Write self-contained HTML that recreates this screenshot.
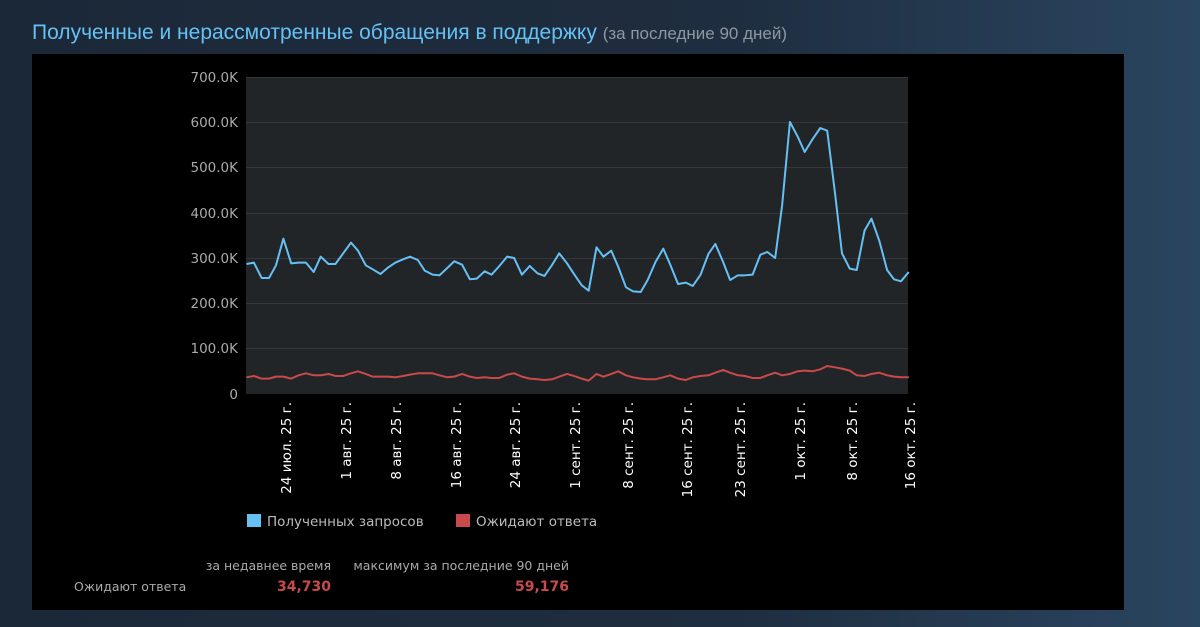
<!DOCTYPE html>
<html><head><meta charset="utf-8"><style>
body{margin:0;width:1200px;height:627px;overflow:hidden;background:linear-gradient(90deg,#1b2838 0%,#1e2d3f 60%,#2a4560 100%);font-family:"Liberation Sans","DejaVu Sans",sans-serif;position:relative}
.title{position:absolute;left:32px;top:21px;font-size:21px;color:#66c0f4;white-space:nowrap}
.title span{color:#8f98a0;font-size:17px}
.panel{position:absolute;left:32px;top:54px;width:1092px;height:556px;background:#000}
</style></head><body>
<div class="title">Полученные и нерассмотренные обращения в поддержку <span>(за последние 90 дней)</span></div>
<div class="panel"></div>
<svg width="1200" height="627" style="position:absolute;left:0;top:0" font-family="DejaVu Sans, sans-serif">
<rect x="246" y="77" width="662" height="317" fill="#222528"/>
<g stroke="#34383c" stroke-width="1">
<line x1="246" x2="908" y1="77.5" y2="77.5"/><line x1="246" x2="908" y1="122.5" y2="122.5"/><line x1="246" x2="908" y1="167.5" y2="167.5"/><line x1="246" x2="908" y1="213.5" y2="213.5"/><line x1="246" x2="908" y1="258.5" y2="258.5"/><line x1="246" x2="908" y1="303.5" y2="303.5"/><line x1="246" x2="908" y1="348.5" y2="348.5"/>
</g>
<g fill="#aaa" font-size="13.5" text-anchor="end">
<text x="238" y="82">700.0K</text><text x="238" y="127">600.0K</text><text x="238" y="172">500.0K</text><text x="238" y="218">400.0K</text><text x="238" y="263">300.0K</text><text x="238" y="308">200.0K</text><text x="238" y="353">100.0K</text><text x="238" y="399">0</text>
</g>
<g transform="translate(240,100) scale(0.4337,0.3333)" fill="none" stroke-width="2" stroke-linejoin="round">
<polyline vector-effect="non-scaling-stroke" stroke="#66c0f4" points="15,492 32,488 50,534 67,534 83,496 100,416 118,490 135,488 152,488 170,516 186,470 204,492 220,492 238,460 256,428 272,452 290,496 306,508 324,522 340,504 358,488 376,478 392,470 410,480 426,512 444,524 460,526 478,504 494,484 512,494 530,538 546,536 564,514 580,524 598,498 616,470 632,474 650,524 668,498 686,520 702,528 720,494 736,460 754,490 770,522 788,556 804,572 822,442 838,470 856,452 872,500 890,562 906,574 924,576 940,540 958,486 976,446 992,494 1010,552 1028,548 1044,558 1062,524 1080,462 1096,432 1114,486 1130,540 1148,526 1164,526 1182,524 1200,464 1216,456 1234,474 1250,316 1268,66 1286,110 1302,156 1320,118 1338,84 1354,92 1372,280 1388,460 1406,506 1422,510 1440,392 1456,356 1474,422 1492,510 1508,538 1524,544 1542,516"/>
<polyline vector-effect="non-scaling-stroke" stroke="#c94a4a" points="15,832 32,828 50,836 67,836 83,830 100,830 118,836 135,826 152,820 170,826 186,826 204,822 220,828 238,828 256,820 272,814 290,822 306,830 324,830 340,830 358,832 376,828 392,824 410,820 426,820 444,820 460,826 478,832 494,830 512,822 530,830 546,834 564,832 580,834 598,834 616,824 632,820 650,830 668,836 686,838 702,840 720,838 736,830 754,822 770,828 788,836 804,842 822,822 838,830 856,822 872,814 890,826 906,832 924,836 940,838 958,838 976,832 992,826 1010,836 1028,840 1044,832 1062,828 1080,826 1096,818 1114,810 1130,818 1148,826 1164,828 1182,834 1200,834 1216,826 1234,818 1250,826 1268,822 1286,814 1302,812 1320,814 1338,808 1354,798 1372,802 1388,806 1406,812 1422,826 1440,828 1456,822 1474,818 1492,826 1508,830 1524,832 1542,832"/>
</g>
<g fill="#fff" font-size="13.5" text-anchor="end">
<text transform="translate(291,402) rotate(-90)">24 июл. 25 г.</text>
<text transform="translate(351,402) rotate(-90)">1 авг. 25 г.</text>
<text transform="translate(401,402) rotate(-90)">8 авг. 25 г.</text>
<text transform="translate(461,402) rotate(-90)">16 авг. 25 г.</text>
<text transform="translate(520,402) rotate(-90)">24 авг. 25 г.</text>
<text transform="translate(580,402) rotate(-90)">1 сент. 25 г.</text>
<text transform="translate(633,402) rotate(-90)">8 сент. 25 г.</text>
<text transform="translate(692,402) rotate(-90)">16 сент. 25 г.</text>
<text transform="translate(745,402) rotate(-90)">23 сент. 25 г.</text>
<text transform="translate(805,402) rotate(-90)">1 окт. 25 г.</text>
<text transform="translate(857,402) rotate(-90)">8 окт. 25 г.</text>
<text transform="translate(915,402) rotate(-90)">16 окт. 25 г.</text>
</g>
<rect x="247" y="514" width="14" height="13" fill="#66c0f4"/>
<text x="267" y="526" fill="#bbb" font-size="13.5">Полученных запросов</text>
<rect x="456" y="514" width="14" height="13" fill="#c94a4a"/>
<text x="476" y="526" fill="#bbb" font-size="13.5">Ожидают ответа</text>
<g font-size="12.5" fill="#aaa">
<text x="331" y="570" text-anchor="end">за недавнее время</text>
<text x="569" y="570" text-anchor="end">максимум за последние 90 дней</text>
<text x="74" y="591">Ожидают ответа</text>
</g>
<g font-size="14" font-weight="bold" fill="#c94a4a" text-anchor="end">
<text x="331" y="591">34,730</text><text x="569" y="591">59,176</text>
</g>
</svg>
</body></html>
